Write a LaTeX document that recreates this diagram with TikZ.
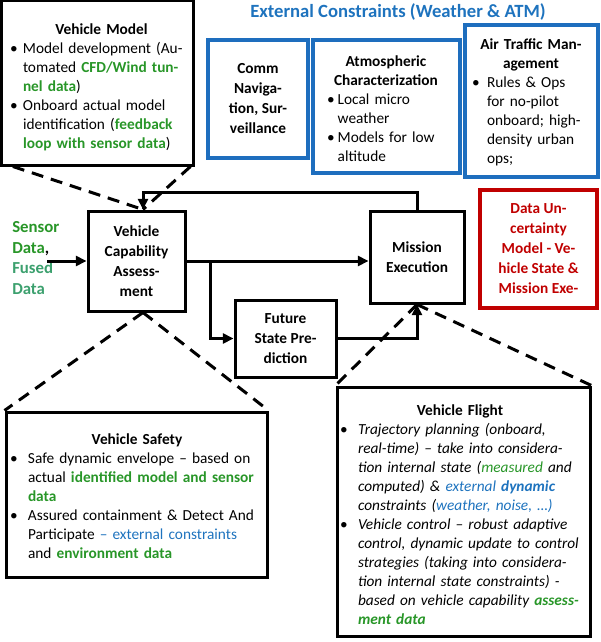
\documentclass[tikz,border=0pt]{standalone}
\usepackage{fontspec}
\setmainfont{Carlito}
\usetikzlibrary{arrows.meta}
\definecolor{cgreen}{RGB}{40,150,40}
\definecolor{cteal}{RGB}{60,160,110}
\definecolor{cblue}{RGB}{30,115,190}
\definecolor{cboxblue}{RGB}{30,110,190}
\definecolor{cred}{RGB}{192,0,0}
\newlength\hg
\newcommand\BL[1]{\noindent\makebox[\hg][l]{\upshape\textbullet}\makebox[\dimexpr\linewidth-\hg\relax][s]{#1}\par}
\newcommand\CL[1]{\noindent\hspace*{\hg}\makebox[\dimexpr\linewidth-\hg\relax][s]{#1}\par}
\newcommand\EL[1]{\noindent\hspace*{\hg}#1\par}
\newcommand\BE[1]{\noindent\makebox[\hg][l]{\upshape\textbullet}#1\par}
\newcommand\TL[2][0pt]{\noindent\makebox[\linewidth]{\hspace*{#1}#2}\par}
\newcommand\gb[1]{\textcolor{cgreen}{\textbf{#1}}}
\tikzset{
  sz/.style 2 args={minimum width=#1*0.75pt, minimum height=#2*0.75pt},
  blk/.style={draw=black, line width=2.25pt, inner sep=0pt},
  bbox/.style={draw=cboxblue, line width=2.6pt, inner sep=0pt},
  rbox/.style={draw=cred, line width=2.6pt, inner sep=0pt},
  conn/.style={line width=2.25pt, -{Triangle[length=8pt,width=7.5pt]}},
  dsh/.style={line width=2.25pt, dash pattern=on 9pt off 6pt},
  body/.style={font=\fontsize{11.5pt}{14.25pt}\selectfont, inner sep=0pt},
  sbox/.style={blk, font=\fontsize{11.5pt}{15pt}\selectfont\bfseries, align=center}
}
\begin{document}
\begin{tikzpicture}[x=0.75pt,y=-0.75pt]
\useasboundingbox (0,0) rectangle (600,642);

% title
\node[font=\fontsize{14pt}{17pt}\selectfont\bfseries, text=cblue, inner sep=0pt] (ext) at (398,12) {External Constraints (Weather \& ATM)};

% Vehicle Model
\node[blk, sz={192}{164}] (vm) at (97,83) {};
\node[body, text width=127.5pt] (vmt) at (95,87) {\setlength\hg{9.75pt}%
\TL[9.75pt]{\textbf{Vehicle Model}}
\BL{Model development (Au-}
\CL{tomated \gb{CFD/Wind tun-}}
\EL{\gb{nel data})}
\BL{Onboard actual model}
\CL{identification (\gb{feedback}}
\EL{\gb{loop with sensor data})}};

% external constraint boxes
\node[bbox, sz={100}{118}, font=\fontsize{11.5pt}{15pt}\selectfont\bfseries, align=center] (comm) at (258,99) {Comm\\Naviga-\\tion, Sur-\\veillance};
\node[bbox, sz={147}{133}] (atmo) at (386.5,106.5) {};
\node[body, text width=88.5pt] (atmot) at (386,109) {\setlength\hg{8pt}%
\TL{\textbf{Atmospheric}}
\TL{\textbf{Characterization}}
\BE{Local micro}
\EL{weather}
\BE{Models for low}
\EL{altitude}};
\node[bbox, sz={133}{152}] (atmg) at (531.5,101) {};
\node[body, text width=88.5pt] (atmgt) at (531,102.5) {\setlength\hg{11.25pt}%
\TL{\textbf{Air Traffic Man-}}
\TL{\textbf{agement}}
\BE{Rules \& Ops}
\EL{for no-pilot}
\EL{onboard; high-}
\EL{density urban}
\EL{ops;}};

% central blocks
\node[sbox, sz={97}{100}] (vca) at (136.5,261) {Vehicle\\Capability\\Assess-\\ment};
\node[sbox, sz={94}{92}] (mis) at (417,257) {Mission\\Execution};
\node[sbox, sz={101}{77}] (fut) at (285.5,338.5) {Future\\State Pre-\\diction};
\node[rbox, sz={117}{118}, font=\fontsize{11.5pt}{15pt}\selectfont\bfseries, text=cred, align=center] (dum) at (538.5,249) {Data Un-\\certainty\\Model - Ve-\\hicle State \&\\Mission Exe-};

% sensor text
\node[font=\fontsize{12.6pt}{15.5pt}\selectfont\bfseries, align=left, anchor=west, inner sep=0pt] (sens) at (12,258) {\textcolor{cgreen}{Sensor}\\\textcolor{cgreen}{Data},\\\textcolor{cteal}{Fused}\\\textcolor{cteal}{Data}};

% Vehicle Safety
\node[blk, sz={261}{165}] (vs) at (136.5,494.5) {};
\node[body, text width=181.5pt] (vst) at (131,496) {\setlength\hg{13.5pt}%
\TL[9pt]{\textbf{Vehicle Safety}}
\BL{Safe dynamic envelope – based on}
\CL{actual \gb{identified model and sensor}}
\EL{\gb{data}}
\BL{Assured containment \& Detect And}
\CL{Participate \textcolor{cblue}{– external constraints}}
\EL{and \gb{environment data}}};

% Vehicle Flight
\node[blk, sz={253}{249}] (vf) at (463.5,511.5) {};
\node[body, text width=174pt, font=\fontsize{11.5pt}{14.25pt}\selectfont\itshape] (vft) at (456,515) {\setlength\hg{13.5pt}%
\TL[6pt]{\upshape\bfseries Vehicle Flight}
\BL{Trajectory planning (onboard,}
\CL{real-time) – take into considera-}
\CL{tion internal state (\textcolor{cgreen}{measured} and}
\CL{computed) \& \textcolor{cblue}{external} \textcolor{cblue}{\textbf{dynamic}}}
\EL{constraints (\textcolor{cblue}{weather, noise, …)}}
\BL{Vehicle control – robust adaptive}
\CL{control, dynamic update to control}
\CL{strategies (taking into considera-}
\CL{tion internal state constraints) -}
\CL{based on vehicle capability \gb{assess-}}
\EL{\gb{ment data}}};

% connectors
\coordinate (sin) at (47,261);
\coordinate (br) at (210,261);
\coordinate (fb) at (143,192);
\draw[conn] (sin) -- (vca.west);
\draw[conn] (vca.east) -- (vca.east -| mis.west);
\draw[conn] (br) |- (fut.west);
\draw[conn] (fut.east) -| (mis.south);
\draw[conn] (mis.north) |- (fb) -- (fb |- vca.north);

% dashed zoom lines
\draw[dsh] ([xshift=10pt]vm.south west) -- (fb |- vca.north);
\draw[dsh] ([xshift=-3pt]vm.south east) -- (fb |- vca.north);
\draw[dsh] (fb |- vca.south) -- (vs.north west);
\draw[dsh] (fb |- vca.south) -- (vs.north east);
\draw[dsh] (mis.south) -- (vf.north west);
\draw[dsh] (mis.south) -- (vf.north east);
\end{tikzpicture}
\end{document}
